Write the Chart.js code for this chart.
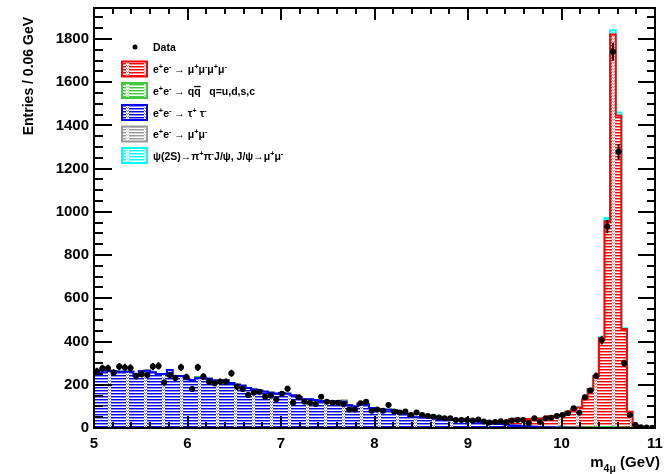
<!DOCTYPE html>
<html>
<head>
<meta charset="utf-8">
<script src="https://cdn.jsdelivr.net/npm/chart.js@4.4.0/dist/chart.umd.min.js"></script>
<style>
  html, body { margin: 0; padding: 0; background: #fff; }
  canvas { display: block; }
</style>
</head>
<body>
<canvas id="c" width="667" height="474"></canvas>
<script>
// bins: 100 bins of 0.06 GeV from 5 to 11 GeV
const binEdges = Array.from({ length: 101 }, (_, i) => +(5 + 0.06 * i).toFixed(2));
const xTicks = [5, 6, 7, 8, 9, 10, 11];
const yTicks = [0, 200, 400, 600, 800, 1000, 1200, 1400, 1600, 1800];

const dataCounts = [
  262, 276, 276, 256, 284, 280, 278, 240, 250, 245,
  284, 287, 210, 245, 231, 281, 236, 180, 281, 238,
  214, 207, 214, 214, 253, 191, 180, 153, 164, 168,
  145, 150, 133, 158, 182, 117, 142, 122, 117, 111,
  145, 122, 117, 117, 111, 86, 86, 114, 122, 80,
  86, 80, 106, 76, 72, 76, 60, 72, 60, 56,
  52, 48, 45, 45, 37, 37, 37, 35, 39, 30,
  25, 28, 31, 28, 35, 37, 37, 23, 45, 28,
  45, 47, 56, 60, 68, 91, 71, 142, 173, 241,
  407, 932, 1741, 1278, 299, 60, 14, 4, 2, 1
];

const tautau = [
  265, 265, 265, 262, 260, 260, 260, 241, 262, 265,
  258, 250, 250, 268, 240, 240, 225, 222, 230, 230,
  228, 220, 216, 220, 208, 200, 195, 185, 178, 172,
  168, 163, 158, 162, 158, 150, 142, 133, 133, 130,
  125, 122, 124, 124, 121, 105, 99, 112, 110, 92,
  86, 84, 84, 82, 68, 64, 52, 50, 48, 48,
  48, 42, 40, 39, 37, 37, 34, 34, 29, 24,
  23, 21, 18, 16, 12, 10, 8, 7, 6, 5,
  4, 3, 2, 2, 1, 1, 1, 0, 0, 0,
  0, 0, 0, 0, 0, 0, 0, 0, 0, 0
];

const mumu = [
  0, 0, 0, 0, 0, 0, 0, 0, 0, 0,
  0, 0, 0, 0, 0, 0, 0, 0, 0, 0,
  0, 0, 0, 0, 0, 0, 0, 0, 0, 0,
  0, 0, 0, 0, 0, 0, 0, 0, 0, 0,
  0, 0, 0, 0, 0, 0, 0, 0, 0, 0,
  0, 0, 0, 0, 0, 0, 0, 0, 0, 0,
  0, 1, 1, 1, 1, 1, 1, 1, 1, 1,
  1, 1, 1, 1, 1, 0, 0, 0, 0, 0,
  0, 0, 0, 0, 0, 0, 0, 0, 0, 0,
  0, 0, 0, 0, 0, 0, 0, 0, 0, 0
];

const qqbar = [
  0, 0, 0, 0, 0, 0, 0, 0, 0, 0,
  0, 0, 0, 0, 0, 0, 0, 0, 6, 0,
  0, 0, 0, 0, 0, 0, 0, 0, 0, 0,
  0, 0, 0, 0, 0, 0, 0, 0, 0, 0,
  0, 0, 0, 0, 5, 0, 0, 0, 0, 0,
  0, 0, 0, 0, 0, 0, 0, 0, 0, 0,
  0, 0, 0, 0, 0, 0, 0, 0, 0, 0,
  0, 0, 0, 0, 0, 0, 0, 0, 0, 0,
  2, 2, 3, 4, 3, 3, 3, 3, 4, 5,
  5, 5, 5, 4, 2, 1, 0, 0, 0, 0
];

const fourMu = [
  0, 0, 0, 0, 0, 0, 0, 0, 0, 0,
  0, 0, 0, 0, 0, 0, 0, 0, 0, 0,
  0, 0, 0, 0, 0, 0, 0, 0, 0, 0,
  0, 0, 0, 0, 0, 0, 0, 0, 0, 0,
  0, 0, 0, 0, 0, 0, 0, 0, 0, 0,
  1, 1, 1, 1, 1, 1, 1, 1, 2, 2,
  2, 2, 2, 2, 2, 2, 3, 3, 4, 5,
  5, 7, 9, 13, 29, 33, 34, 35, 37, 39,
  39, 50, 51, 52, 71, 81, 91, 129, 176, 235,
  410, 952, 1815, 1441, 456, 74, 12, 4, 2, 1
];

const psi2S = [
  0, 0, 0, 0, 0, 0, 0, 0, 0, 0,
  0, 0, 0, 0, 0, 0, 0, 0, 0, 0,
  0, 0, 0, 0, 0, 0, 0, 0, 0, 0,
  0, 0, 0, 0, 0, 0, 0, 0, 0, 0,
  0, 0, 0, 0, 0, 0, 0, 0, 0, 0,
  0, 0, 0, 0, 0, 0, 0, 0, 0, 0,
  8, 0, 0, 0, 0, 0, 0, 0, 0, 0,
  0, 0, 0, 0, 0, 0, 0, 0, 0, 0,
  0, 0, 0, 0, 0, 0, 0, 3, 0, 0,
  5, 14, 20, 15, 3, 0, 0, 0, 0, 0
];

const legendLabels = [
  'Data',
  'e^{+}e^{-} \u2192 \u03bc^{+}\u03bc^{-}\u03bc^{+}\u03bc^{-}',
  'e^{+}e^{-} \u2192 q~{q}   q=u,d,s,c',
  'e^{+}e^{-} \u2192 \u03c4^{+} \u03c4^{-}',
  'e^{+}e^{-} \u2192 \u03bc^{+}\u03bc^{-}',
  '\u03c8(2S)\u2192\u03c0^{+}\u03c0^{-}J/\u03c8, J/\u03c8\u2192\u03bc^{+}\u03bc^{-}'
];

const FONT = '"Liberation Sans", Arial, Helvetica, sans-serif';
const canvas = document.getElementById('c');
const ctx = canvas.getContext('2d');

function hatch(color) {
  const t = document.createElement('canvas');
  t.width = 18; t.height = 3;
  const g = t.getContext('2d');
  g.fillStyle = '#fff';
  g.fillRect(0, 0, 18, 3);
  g.fillStyle = color;
  g.fillRect(0, 0, 18, 1);
  g.globalAlpha = 0.45;
  g.fillRect(0, 1, 18, 1);
  g.globalAlpha = 1;
  g.fillStyle = '#fff';
  g.fillRect(0, 0, 3, 3);
  g.fillStyle = color;
  g.globalAlpha = 0.5;
  g.fillRect(1, 0, 1, 1);
  g.fillRect(0, 2, 1, 1);
  g.fillRect(2, 2, 1, 1);
  g.globalAlpha = 1;
  return ctx.createPattern(t, 'repeat');
}

function stepData(values) {
  const pts = values.map((v, i) => ({ x: binEdges[i], y: v }));
  pts.push({ x: binEdges[values.length], y: values[values.length - 1] });
  return pts;
}

function histo(label, values, color, fill) {
  return {
    label, data: stepData(values), stack: 'mc',
    stepped: true, borderColor: color, borderWidth: 2,
    backgroundColor: hatch(color), fill, pointRadius: 0
  };
}

const datasets = [
  histo('tautau', tautau, '#0000ff', 'origin'),
  histo('mumu', mumu, '#9a9a9a', '-1'),
  histo('qq', qqbar, '#3ecb3e', '-1'),
  histo('4mu', fourMu, '#ff0000', '-1'),
  histo('psi2S', psi2S, '#00ffff', '-1'),
  {
    type: 'scatter', label: 'Data', stack: 'data', order: -1,
    data: dataCounts.map((n, i) => ({ x: (binEdges[i] + binEdges[i + 1]) / 2, y: n })),
    pointRadius: 3, pointBackgroundColor: '#000', pointBorderWidth: 0
  }
];

// draws rich text with ^{sup}, _{sub}, ~{overline}
function richText(g, str, x, y, size, measureOnly) {
  const re = /\^\{([^}]*)\}|_\{([^}]*)\}|~\{([^}]*)\}|[^^_~]+/g;
  let cx = x, m;
  while ((m = re.exec(str))) {
    let s = m[0], fs = size, dy = 0, over = false;
    if (m[1] !== undefined) { s = m[1]; fs = size * 0.7; dy = -size * 0.38; }
    else if (m[2] !== undefined) { s = m[2]; fs = size * 0.7; dy = size * 0.3; }
    else if (m[3] !== undefined) { s = m[3]; over = true; }
    g.font = `bold ${fs}px ${FONT}`;
    const w = g.measureText(s).width;
    if (!measureOnly) {
      g.fillText(s, cx, y + dy);
      if (over) {
        g.fillRect(cx, y - size * 0.82, w, 1.3);
      }
    }
    cx += w;
  }
  return cx - x;
}

const rootFrame = {
  id: 'rootFrame',
  afterDatasetsDraw(chart) {
    const { ctx: g, scales: { x, y } } = chart;
    g.save();
    g.strokeStyle = '#000';
    g.lineWidth = 2;
    dataCounts.forEach((n, i) => {
      const e = Math.sqrt(n);
      const cx = x.getPixelForValue((binEdges[i] + binEdges[i + 1]) / 2);
      const cy = y.getPixelForValue(n);
      g.beginPath();
      g.moveTo(cx, y.getPixelForValue(n - e));
      g.lineTo(cx, y.getPixelForValue(n + e));
      g.moveTo(x.getPixelForValue(binEdges[i]), cy);
      g.lineTo(x.getPixelForValue(binEdges[i + 1]), cy);
      g.stroke();
    });
    g.restore();
  },
  afterDraw(chart) {
    const { ctx: g, chartArea: a, scales: { x, y } } = chart;
    g.save();
    g.strokeStyle = '#000';
    g.lineWidth = 2;
    g.strokeRect(a.left, a.top, a.right - a.left, a.bottom - a.top);
    g.beginPath();
    for (let i = 0; i <= 30; i++) {
      const px = Math.round(x.getPixelForValue(5 + i * 0.2));
      const len = i % 5 === 0 ? 12 : 6;
      g.moveTo(px, a.bottom); g.lineTo(px, a.bottom - len);
      g.moveTo(px, a.top); g.lineTo(px, a.top + len);
    }
    for (let i = 0; i <= 38; i++) {
      const py = Math.round(y.getPixelForValue(i * 50));
      const major = i % 4 === 0;
      g.moveTo(a.left, py); g.lineTo(a.left + (major ? 18 : 9), py);
      g.moveTo(a.right, py); g.lineTo(a.right - (major ? 17 : 8), py);
    }
    g.stroke();

    // axis titles
    g.fillStyle = '#000';
    g.textBaseline = 'alphabetic';
    const xt = 'm_{4\u03bc} (GeV)';
    const w = richText(g, xt, 0, 0, 15, true);
    richText(g, xt, 660 - w, 467, 15);
    g.save();
    g.translate(33, 17);
    g.rotate(-Math.PI / 2);
    g.font = `bold 14px ${FONT}`;
    g.textAlign = 'right';
    g.fillText('Entries / 0.06 GeV', 0, 0);
    g.restore();

    // legend
    const order = [null, 3, 2, 0, 1, 4];
    const rowY = [47, 69, 90.5, 112.5, 134, 155.5];
    order.forEach((di, r) => {
      const cy = rowY[r];
      if (di === null) {
        g.beginPath();
        g.arc(135, cy, 2.5, 0, Math.PI * 2);
        g.fill();
      } else {
        const ds = chart.data.datasets[di];
        g.fillStyle = ds.backgroundColor;
        g.fillRect(122, cy - 7.5, 25, 15);
        g.strokeStyle = ds.borderColor;
        g.lineWidth = 2;
        g.strokeRect(122, cy - 7.5, 25, 15);
        g.fillStyle = '#000';
      }
      richText(g, legendLabels[r], 153, cy + 4, 10.5);
    });
    g.restore();
  }
};

new Chart(canvas, {
  type: 'line',
  data: { datasets },
  options: {
    responsive: false,
    animation: false,
    devicePixelRatio: 1,
    layout: { padding: { left: 0, right: 12, top: 8, bottom: 0 } },
    plugins: { legend: { display: false }, tooltip: { enabled: false } },
    scales: {
      x: {
        type: 'linear', min: 5, max: 11,
        grid: { display: false, drawTicks: false },
        border: { display: false },
        afterBuildTicks: s => { s.ticks = xTicks.map(v => ({ value: v })); },
        afterFit: s => { s.height = 46; s.paddingLeft = 0; s.paddingRight = 0; },
        ticks: { padding: 7, color: '#000', maxRotation: 0, autoSkip: false,
                 callback: v => String(v),
                 font: { family: FONT, size: 15, weight: 'bold' } }
      },
      y: {
        type: 'linear', stacked: true, min: 0, max: 1943,
        grid: { display: false, drawTicks: false },
        border: { display: false },
        afterBuildTicks: s => { s.ticks = yTicks.map(v => ({ value: v })); },
        afterFit: s => { s.width = 94; s.paddingTop = 0; s.paddingBottom = 0; },
        ticks: { padding: 5, color: '#000', autoSkip: false,
                 callback: v => String(v),
                 font: { family: FONT, size: 15, weight: 'bold' } }
      }
    }
  },
  plugins: [rootFrame]
});
</script>
</body>
</html>
